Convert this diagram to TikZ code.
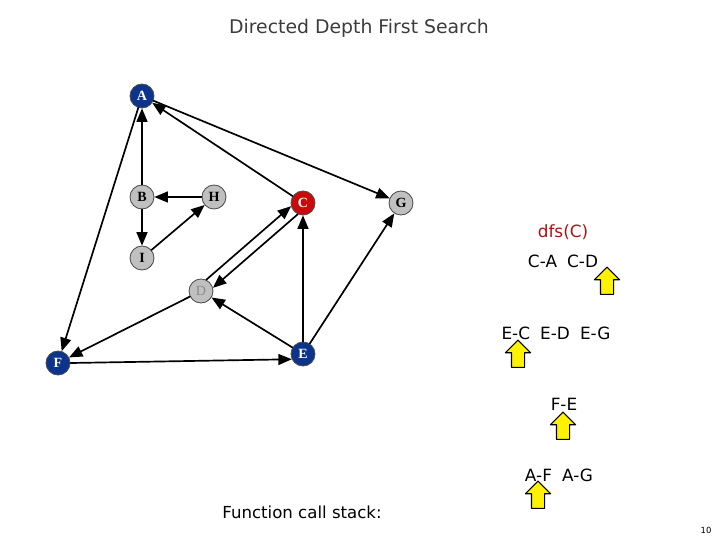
\documentclass[tikz,border=0pt]{standalone}
\usepackage{fontspec}
\setmainfont{DejaVu Sans}
\usepackage{tikz}
\usetikzlibrary{arrows}
\usetikzlibrary{shapes.arrows}
\definecolor{vblue}{RGB}{12,52,140}
\definecolor{vred}{RGB}{200,10,10}
\definecolor{vgrey}{RGB}{192,192,192}
\definecolor{dfsred}{RGB}{170,20,20}
\definecolor{titlegrey}{RGB}{60,60,60}
\tikzset{
  vtx/.style={circle,draw=black!70,line width=0.6pt,minimum size=0.6cm,inner sep=0pt,
    font=\fontspec{Liberation Serif}\bfseries\fontsize{10}{10}\selectfont},
  done/.style={vtx,fill=vblue,text=white},
  cur/.style={vtx,fill=vred,text=white},
  todo/.style={vtx,fill=vgrey,text=black},
  edge/.style={->,line width=1.2pt},
  stk/.style={font=\fontsize{12}{12}\selectfont},
  ptr/.style={single arrow,draw=black,line width=0.8pt,fill=yellow,shape border rotate=90,
    minimum height=0.68cm,inner sep=0.15cm,single arrow head extend=0.15cm}
}
\begin{document}
\begin{tikzpicture}[line cap=round,line join=round,>=triangle 45,x=0.025cm,y=-0.025cm]
\useasboundingbox (0,0) rectangle (720,540);
% title
\node[text=titlegrey,font=\fontsize{13.4}{14}\selectfont] (title) at (359,28) {Directed Depth First Search};
% vertices
\node[done] (A) at (142,96) {A};
\node[todo] (B) at (142,197) {B};
\node[todo] (H) at (214,197) {H};
\node[cur] (C) at (303,203) {C};
\node[todo] (G) at (401,203) {G};
\node[todo] (I) at (142,258) {I};
\node[todo,text=black!45,font=\fontspec{Liberation Serif}\fontsize{10}{10}\selectfont] (D) at (201,291) {D};
\node[done] (F) at (58,363) {F};
\node[done] (E) at (303,354) {E};
% edges
\draw[edge] (B) -- (A);
\draw[edge] (H) -- (B);
\draw[edge] (B) -- (I);
\draw[edge] (I) -- (H);
\draw[edge] (C) -- (A);
\draw[edge] (A) -- (G);
\draw[edge] (A) -- (F);
\draw[edge] (D.65) -- (C.195);
\draw[edge] (C.245) -- (D.15);
\draw[edge] (E) -- (C);
\draw[edge] (E) -- (G);
\draw[edge] (E) -- (D);
\draw[edge] (D) -- (F);
\draw[edge] (F.east) -- (E.205);
% call stack
\node[text=dfsred,stk] (dfsC) at (563,232) {dfs(C)};
\node[stk] (frameC) at (563,261) {C-A\hspace{0.6em}C-D};
\node[ptr] (ptrC) at (607,284) {};
\node[stk] (frameE) at (556,333) {E-C\hspace{0.6em}E-D\hspace{0.6em}E-G};
\node[ptr] (ptrE) at (518,357) {};
\node[stk] (frameF) at (564,404) {F-E};
\node[ptr] (ptrF) at (563,429) {};
\node[stk] (frameA) at (559,475) {A-F\hspace{0.6em}A-G};
\node[ptr] (ptrA) at (538,498) {};
\node[font=\fontsize{11.8}{12}\selectfont] (stacklbl) at (302,512) {Function call stack:};
\node[font=\fontsize{6}{6}\selectfont] (pagenum) at (706,530) {10};
\end{tikzpicture}
\end{document}
